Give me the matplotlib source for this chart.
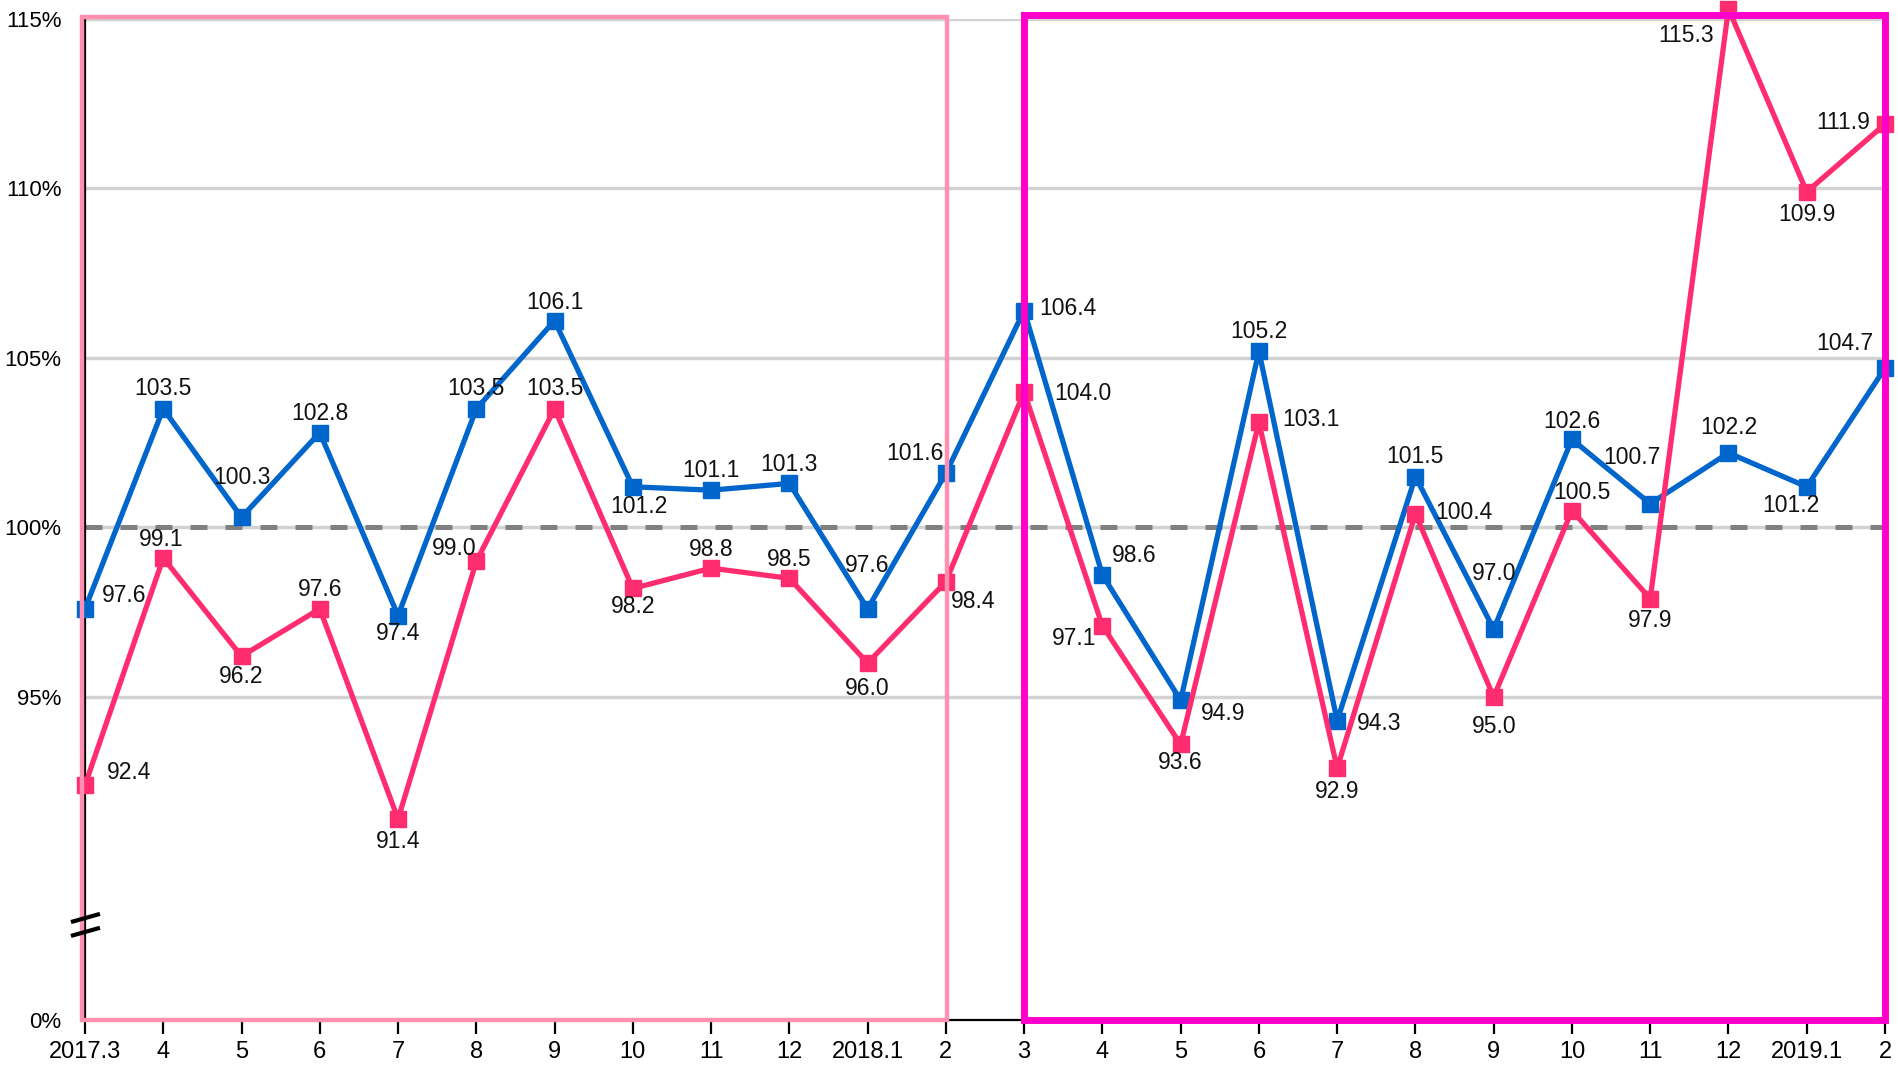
import matplotlib
matplotlib.use("Agg")
import matplotlib.pyplot as plt
from matplotlib.patches import Rectangle
import matplotlib.transforms as mtransforms

plt.rcParams['font.family'] = ['Liberation Sans', 'DejaVu Sans']
plt.rcParams['lines.scale_dashes'] = False

# ---- data -------------------------------------------------------------
months = ["2017.3", "4", "5", "6", "7", "8", "9", "10", "11", "12", "2018.1", "2",
          "3", "4", "5", "6", "7", "8", "9", "10", "11", "12", "2019.1", "2"]

blue_values = [97.6, 103.5, 100.3, 102.8, 97.4, 103.5, 106.1, 101.2, 101.1, 101.3,
               97.6, 101.6, 106.4, 98.6, 94.9, 105.2, 94.3, 101.5, 97.0, 102.6,
               100.7, 102.2, 101.2, 104.7]

pink_values = [92.4, 99.1, 96.2, 97.6, 91.4, 99.0, 103.5, 98.2, 98.8, 98.5,
               96.0, 98.4, 104.0, 97.1, 93.6, 103.1, 92.9, 100.4, 95.0, 100.5,
               97.9, 115.3, 109.9, 111.9]

y_ticks = [95, 100, 105, 110, 115]
y_tick_labels = ["95%", "100%", "105%", "110%", "115%"]
zero_label = "0%"

# label placement (pixels, x right / y up) relative to each marker
blue_offsets = [(39, 13), (0, 20), (0, 40), (0, 19), (0, -18), (0, 20), (0, 18),
                (6, -20), (0, 20), (0, 19), (0, 43), (-31, 20), (44, 2), (32, 19),
                (42, -13), (0, 20), (42, -3), (0, 20), (0, 56), (0, 18), (-18, 46),
                (0, 25), (-16, -19), (-40, 25)]
pink_offsets = [(44, 13), (-2, 18), (0, -20), (0, 19), (0, -23), (-22, 13), (0, 20),
                (0, -18), (0, 19), (0, 19), (0, -25), (27, -20), (59, -2), (-28, -13),
                (0, -18), (52, 3), (0, -23), (48, 1), (0, -30), (10, 18), (0, -22),
                (-42, -27), (0, -23), (-42, 2)]

# ---- layout -----------------------------------------------------------
W, H = 1898, 1067
fig = plt.figure(figsize=(W / 100, H / 100), dpi=100)
ax = fig.add_axes([85 / W, 47 / H, 1800 / W, 1001 / H])

y_bottom = 85.47          # compressed position of the 0% baseline (axis break)
x = list(range(len(months)))

ax.set_xlim(0, len(months) - 1)
ax.set_ylim(y_bottom, 115)

BLUE = "#0066CC"
PINK = "#FF2D6F"
LIGHT_PINK = "#FF90B2"
MAGENTA = "#FF00CC"

# grid
for t in y_ticks:
    ax.axhline(t, color="#D2D2D2", lw=2.5, zorder=1)
ax.axhline(100, color="#808080", lw=3.6, dashes=(12.2, 13.0), zorder=1.5)

# series
ax.plot(x, blue_values, color=BLUE, lw=3.8, marker="s", ms=11.5,
        clip_on=False, zorder=3)
ax.plot(x, pink_values, color=PINK, lw=3.8, marker="s", ms=11.5,
        clip_on=False, zorder=3)

# period frames
n = len(months)
ax.add_patch(Rectangle((-0.035, y_bottom), 11.05, 115.05 - y_bottom, fill=False,
                       edgecolor=LIGHT_PINK, lw=3.2, clip_on=False, zorder=4))
ax.add_patch(Rectangle((12.0, y_bottom), n - 1 - 12.0, 115.13 - y_bottom, fill=False,
                       edgecolor=MAGENTA, lw=5.0, clip_on=False, zorder=4,
                       joinstyle="miter"))

# value labels
for xi, v, (dx, dy) in zip(x, blue_values, blue_offsets):
    ax.annotate(f"{v:.1f}", (xi, v), xytext=(dx, dy), textcoords="offset pixels",
                ha="center", va="center", fontsize=16.5, color="#111111", zorder=6,
                annotation_clip=False)
for xi, v, (dx, dy) in zip(x, pink_values, pink_offsets):
    ax.annotate(f"{v:.1f}", (xi, v), xytext=(dx, dy), textcoords="offset pixels",
                ha="center", va="center", fontsize=16.5, color="#111111", zorder=6,
                annotation_clip=False)

# axes
for side in ("top", "right"):
    ax.spines[side].set_visible(False)
ax.spines["left"].set_linewidth(1.6)
ax.spines["bottom"].set_linewidth(1.6)
ax.spines["left"].set_zorder(2)
ax.spines["bottom"].set_zorder(2)

ax.set_xticks(x)
ax.set_xticklabels(months, fontsize=17)
ax.tick_params(axis="x", direction="out", length=10, width=1.6, pad=5, colors="black")

ax.set_yticks([y_bottom] + y_ticks)
ax.set_yticklabels([zero_label] + y_tick_labels, fontsize=16)
ax.tick_params(axis="y", length=0, pad=17)

# axis break marks
trans = mtransforms.blended_transform_factory(ax.transAxes, ax.transData)
for yb in (88.48, 88.07):
    ax.plot([-0.0078, 0.0083], [yb - 0.12, yb + 0.12], color="black", lw=3.0,
            transform=trans, clip_on=False, zorder=5, solid_capstyle="butt")

fig.savefig("out.png", dpi=100)
